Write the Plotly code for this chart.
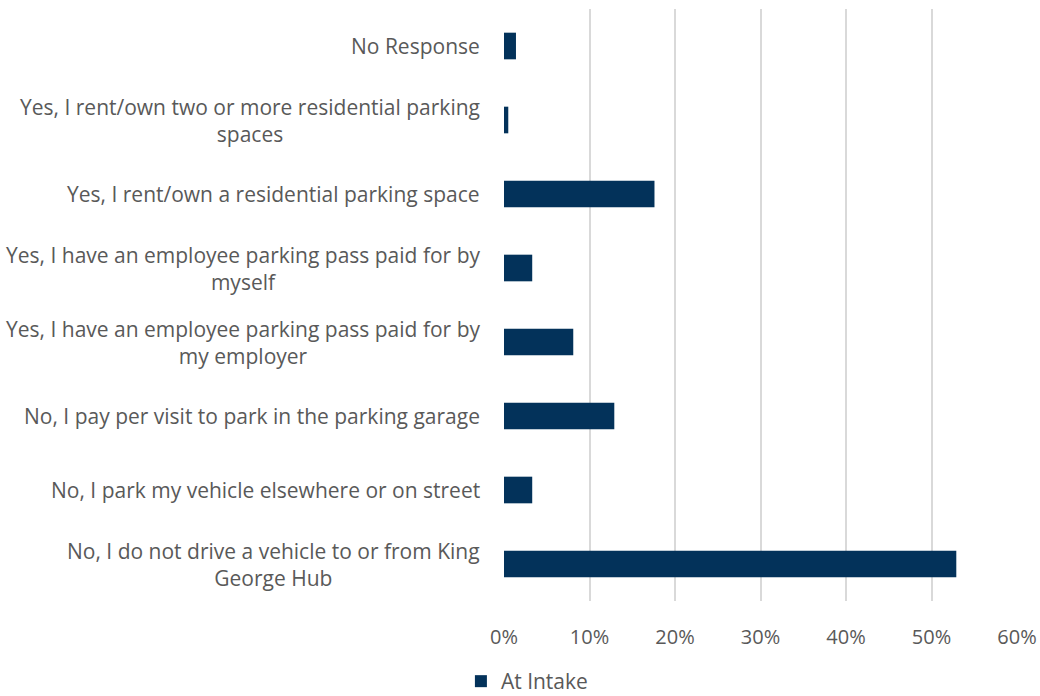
import plotly.graph_objects as go

# Survey responses (share of respondents, %), listed top to bottom
categories = [
    "No Response",
    "Yes, I rent/own two or more residential parking<br>spaces",
    "Yes, I rent/own a residential parking space",
    "Yes, I have an employee parking pass paid for by<br>myself",
    "Yes, I have an employee parking pass paid for by<br>my employer",
    "No, I pay per visit to park in the parking garage",
    "No, I park my vehicle elsewhere or on street",
    "No, I do not drive a vehicle to or from King<br>George Hub",
]
at_intake = [1.4, 0.5, 17.6, 3.3, 8.1, 12.9, 3.3, 52.9]
x_ticks = [0, 10, 20, 30, 40, 50, 60]
x_tick_labels = [f"{v}%" for v in x_ticks]

FONT = "'Open Sans', Lato, sans-serif"
TEXT = "#595959"
NAVY = "#03325A"

fig = go.Figure()
fig.add_trace(go.Bar(
    y=categories,
    x=at_intake,
    orientation="h",
    name="At Intake",
    marker=dict(color=NAVY, line=dict(width=0)),
))

# Category labels: centred multi-line text, right-aligned against the plot
for cat in categories:
    fig.add_annotation(
        x=0, xref="paper", xanchor="right", xshift=-22,
        y=cat, yref="y", yanchor="middle",
        text=cat, showarrow=False, align="center",
        font=dict(family=FONT, size=21, color=TEXT),
    )

fig.update_layout(
    width=1040, height=696,
    margin=dict(l=504, r=23, t=9, b=95, autoexpand=False),
    paper_bgcolor="white", plot_bgcolor="white",
    bargap=0.64,
    font=dict(family=FONT, size=20, color=TEXT),
    showlegend=True,
    legend=dict(
        orientation="h",
        xref="paper", yref="paper",
        x=-0.084, xanchor="left",
        y=-0.136, yanchor="middle",
        font=dict(family=FONT, size=21, color=TEXT),
        itemwidth=30,
    ),
    xaxis=dict(
        range=[0, 60], tickmode="array",
        tickvals=x_ticks, ticktext=x_tick_labels,
        showgrid=True, gridcolor="#D9D9D9", gridwidth=1.5,
        zeroline=False, showline=False, ticks="",
        ticklabelstandoff=22, automargin=False,
        tickfont=dict(family=FONT, size=20, color=TEXT),
        fixedrange=True,
    ),
    yaxis=dict(
        categoryorder="array", categoryarray=categories,
        autorange="reversed", automargin=False,
        showticklabels=False, showgrid=False, zeroline=False,
        showline=False, ticks="",
        fixedrange=True,
    ),
)

fig.write_html("out.html")
